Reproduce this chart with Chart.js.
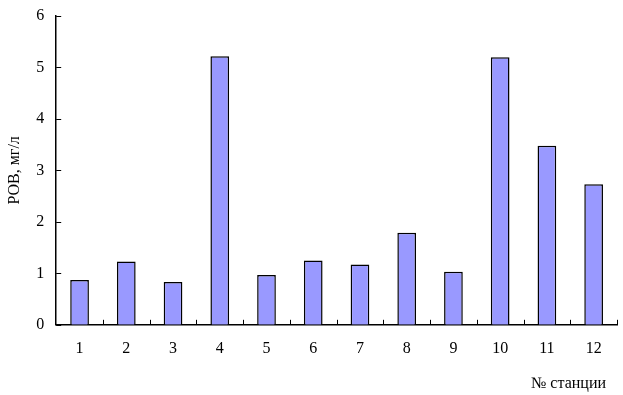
<!DOCTYPE html>
<html><head><meta charset="utf-8">
<script src="https://cdn.jsdelivr.net/npm/chart.js@4/dist/chart.umd.min.js"></script>
<style>html,body{margin:0;padding:0;background:#fff}#wrap{width:623px;height:395px}</style>
</head><body><div id="wrap"><canvas id="c" width="623" height="395"></canvas></div>
<script>
const categories = ['1','2','3','4','5','6','7','8','9','10','11','12'];
const values = [0.87, 1.23, 0.83, 5.22, 0.97, 1.25, 1.17, 1.79, 1.03, 5.20, 3.48, 2.73];
const yTicks = [0,1,2,3,4,5,6];
const yTitle = 'РОВ, мг/л';
const xTitle = '№ станции';
const FONT = 'Liberation Serif';

const innerTicks = {
  id: 'innerTicks',
  afterDraw(chart) {
    const ctx = chart.ctx, x = chart.scales.x, y = chart.scales.y;
    ctx.save();
    ctx.strokeStyle = '#000'; ctx.lineWidth = 1;
    ctx.beginPath();
    y.ticks.forEach(t => {
      const py = Math.round(y.getPixelForValue(t.value)) + 0.5;
      ctx.moveTo(x.left, py); ctx.lineTo(x.left + 5, py);
    });
    const half = (x.getPixelForValue(1) - x.getPixelForValue(0)) / 2;
    for (let i = 0; i < categories.length; i++) {
      const px = Math.round(x.getPixelForValue(i) + half) + 0.5;
      ctx.moveTo(px, y.bottom); ctx.lineTo(px, y.bottom - 5);
    }
    ctx.stroke();
    ctx.fillStyle = '#000';
    ctx.font = '16px "' + FONT + '"';
    ctx.textAlign = 'right'; ctx.textBaseline = 'middle';
    ctx.fillText(xTitle, x.right - 11, y.bottom + 59);
    ctx.restore();
  }
};

new Chart(document.getElementById('c'), {
  type: 'bar',
  data: { labels: categories, datasets: [{ data: values, backgroundColor: '#9999FF', borderColor: '#000', borderWidth: 1.5, barPercentage: 0.4, categoryPercentage: 1 }] },
  options: {
    responsive: false, animation: false,
    layout: { padding: { left: 5, top: 16, right: 6, bottom: 23 } },
    plugins: { legend: { display: false }, tooltip: { enabled: false } },
    scales: {
      x: {
        grid: { display: false, drawTicks: false },
        border: { display: true, color: '#000', width: 1.5 },
        ticks: { color: '#000', font: { family: FONT, size: 16 }, padding: 14, maxRotation: 0 }
      },
      y: {
        min: 0, max: 6,
        afterBuildTicks(s) { s.ticks = yTicks.map(v => ({ value: v })); },
        afterFit(s) { s.paddingTop = 0; s.paddingBottom = 0; },
        grid: { display: false, drawTicks: false },
        border: { display: true, color: '#000', width: 1.5 },
        ticks: { color: '#000', font: { family: FONT, size: 16 }, padding: 12 },
        title: { display: true, text: yTitle, color: '#000', font: { family: FONT, size: 16 }, padding: { top: 0, bottom: 0 } }
      }
    }
  },
  plugins: [innerTicks]
});
</script></body></html>
